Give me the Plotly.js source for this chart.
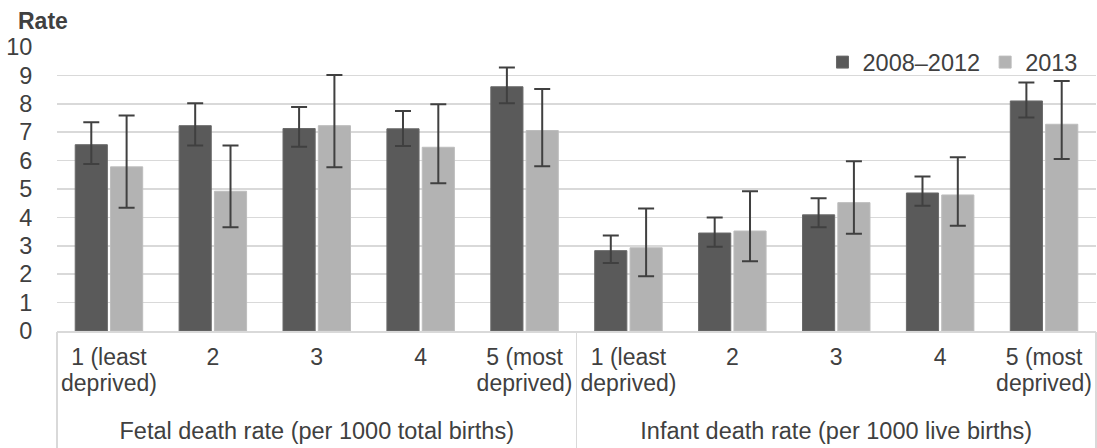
<!DOCTYPE html>
<html>
<head>
<meta charset="utf-8">
<script src="https://cdn.plot.ly/plotly-3.0.1.min.js"></script>
<style>html,body{margin:0;padding:0;background:#fff;}#chart{width:1097px;height:448px;}</style>
</head>
<body>
<div id="chart"></div>
<script>
// ---- data ----
const groups = ["Fetal death rate (per 1000 total births)", "Infant death rate (per 1000 live births)"];
// quintile labels, split in the two lines they are printed on
const quintileLine1 = ["1 (least", "2", "3", "4", "5 (most"];
const quintileLine2 = ["deprived)", "", "", "", "deprived)"];
const seriesNames = ["2008\u20132012", "2013"];

// 2008–2012: fetal q1..q5, infant q1..q5
const rate0812  = [6.56, 7.23, 7.13, 7.12, 8.60, 2.83, 3.45, 4.09, 4.86, 8.10];
const upper0812 = [7.35, 8.02, 7.89, 7.75, 9.28, 3.36, 4.00, 4.67, 5.44, 8.75];
const lower0812 = [5.88, 6.53, 6.49, 6.51, 8.02, 2.39, 2.97, 3.65, 4.41, 7.52];

// 2013
const rate2013  = [5.78, 4.92, 7.23, 6.47, 7.06, 2.93, 3.52, 4.52, 4.79, 7.28];
const upper2013 = [7.59, 6.53, 9.01, 7.98, 8.52, 4.31, 4.92, 5.98, 6.12, 8.80];
const lower2013 = [4.34, 3.65, 5.77, 5.20, 5.80, 1.93, 2.46, 3.42, 3.71, 6.06];

const yTicks = [0, 1, 2, 3, 4, 5, 6, 7, 8, 9, 10];

// ---- build positions from the category lists ----
const nQ = quintileLine1.length;
const nCat = groups.length * nQ;
const catIdx = [], line1 = [], line2Vals = [], line2Text = [];
groups.forEach((g, gi) => quintileLine1.forEach((q, qi) => {
  const i = gi * nQ + qi;
  catIdx.push(i); line1.push(q);
  if (quintileLine2[qi]) { line2Vals.push(i); line2Text.push(quintileLine2[qi]); }
}));
const groupCenters = groups.map((g, gi) => gi * nQ + (nQ - 1) / 2);
const groupBounds = [-0.5].concat(groups.map((g, gi) => (gi + 1) * nQ - 0.5));
const xRange = [-0.5, nCat - 0.5];

function diff(a, b) { return a.map((v, i) => +(v - b[i]).toFixed(3)); }

const errStyle = {color: '#404040', thickness: 2, width: 8};

// carrier traces (no visible marks) so that the overlay label axes are drawn
function carrier(axis, vals) {
  return {type: 'scatter', mode: 'markers', xaxis: axis, yaxis: 'y',
          x: vals, y: vals.map(() => null), marker: {opacity: 0},
          showlegend: false, hoverinfo: 'skip'};
}

const traces = [
  {
    type: 'bar', name: seriesNames[0], x: catIdx, y: rate0812,
    marker: {color: '#5a5a5a', line: {color: '#6a6a6a', width: 1}},
    error_y: Object.assign({type: 'data', symmetric: false,
      array: diff(upper0812, rate0812), arrayminus: diff(rate0812, lower0812)}, errStyle)
  },
  {
    type: 'bar', name: seriesNames[1], x: catIdx, y: rate2013,
    marker: {color: '#b3b3b3', line: {color: '#bdbdbd', width: 1}},
    error_y: Object.assign({type: 'data', symmetric: false,
      array: diff(upper2013, rate2013), arrayminus: diff(rate2013, lower2013)}, errStyle)
  },
  carrier('x2', line2Vals),
  carrier('x3', groupCenters),
  carrier('x4', groupBounds)
];

const FAM = '"Liberation Sans", Arial, sans-serif';
const font = {family: FAM, size: 23.5, color: '#404040'};
const qFont = {family: FAM, size: 23, color: '#404040'};
const clear = 'rgba(0,0,0,0)';

function overlayAxis(extra) {
  return Object.assign({
    overlaying: 'x', anchor: 'y', side: 'bottom', range: xRange, fixedrange: true,
    showgrid: false, zeroline: false, showline: false,
    ticks: 'outside', tickcolor: clear, tickfont: font, automargin: false
  }, extra);
}

const layout = {
  width: 1097, height: 448,
  margin: {l: 57, r: 1, t: 47, b: 117, pad: 0},
  paper_bgcolor: '#fff', plot_bgcolor: '#fff',
  font: font,
  barmode: 'group', bargap: 0.32, bargroupgap: 0.09,
  showlegend: true,
  legend: {orientation: 'h', x: 0.987, xanchor: 'right', y: 0.946, yanchor: 'middle',
           bgcolor: clear, font: font, itemwidth: 30, traceorder: 'normal'},
  title: {text: '<b>Rate</b>', x: 18/1097, xanchor: 'left', xref: 'container',
          y: 1 - 21/448, yanchor: 'middle', yref: 'container',
          font: {family: FAM, size: 23, color: '#404040'}},
  xaxis: {
    range: xRange, fixedrange: true,
    tickvals: catIdx, ticktext: line1,
    showgrid: false, zeroline: false,
    showline: true, linecolor: '#d9d9d9', linewidth: 1.5,
    ticks: 'outside', ticklen: 5, tickcolor: clear,
    tickfont: qFont, automargin: false
  },
  xaxis2: overlayAxis({tickvals: line2Vals, ticktext: line2Text, ticklen: 31, tickfont: qFont}),
  xaxis3: overlayAxis({tickvals: groupCenters, ticktext: groups, ticklen: 79}),
  xaxis4: overlayAxis({tickvals: groupBounds, showticklabels: false,
                       ticklen: 117, tickcolor: '#d9d9d9', tickwidth: 1.5}),
  yaxis: {
    range: [0, 10], tickvals: yTicks, ticktext: yTicks.map(String),
    showgrid: true, gridcolor: '#d9d9d9', gridwidth: 1.5,
    zeroline: false, showline: false,
    ticks: 'outside', ticklen: 19, tickcolor: clear,
    tickfont: font, automargin: false, fixedrange: true
  }
};

Plotly.newPlot('chart', traces, layout, {displayModeBar: false, staticPlot: true});
</script>
</body>
</html>
